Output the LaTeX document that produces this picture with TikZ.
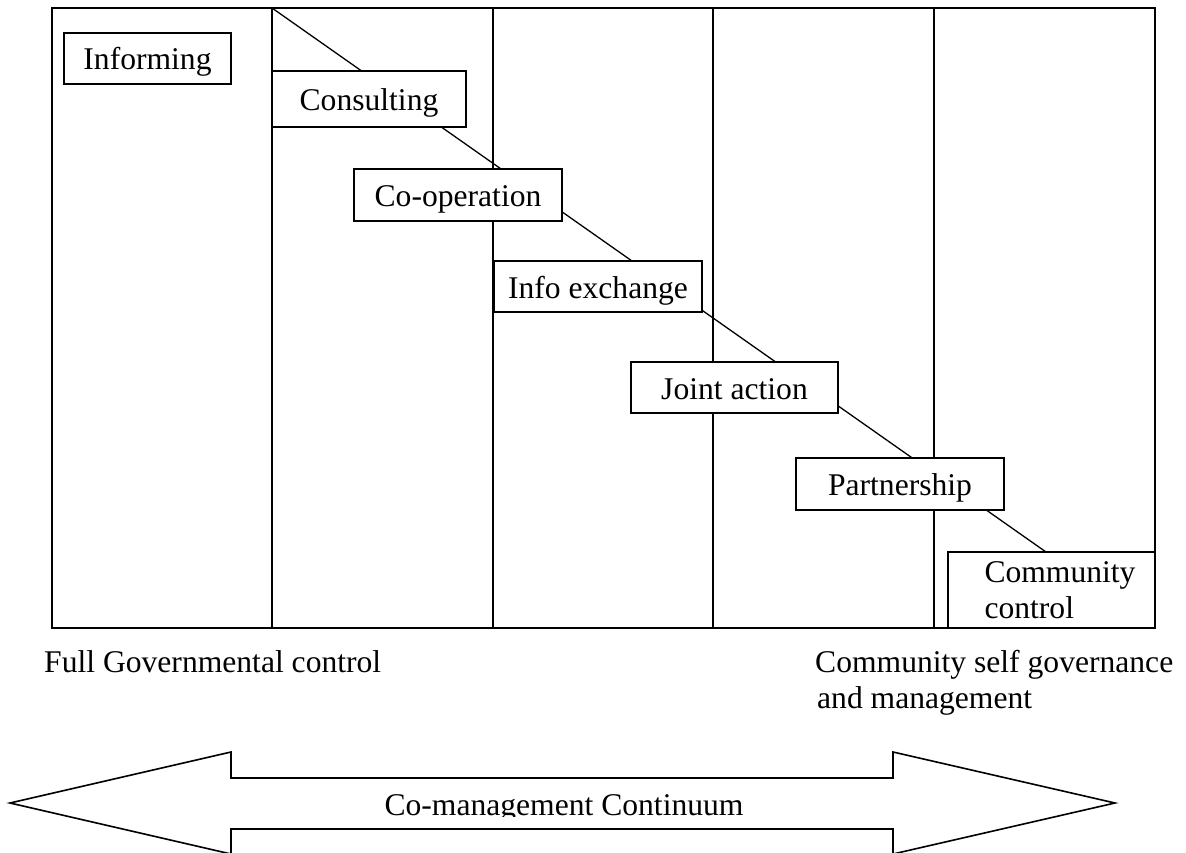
\documentclass[tikz,border=0pt]{standalone}
\usepackage{fontspec}
\setmainfont{Liberation Serif}
\usepackage{tikz}

\begin{document}
\begin{tikzpicture}[
  x=1pt, y=-1pt,
  every node/.style={font=\fontsize{31.6}{36}\selectfont},
  frame/.style={line width=1.6pt},
  box/.style={draw,fill=white,line width=1.6pt,inner sep=0pt},
  stage/.style={box,text height=26,text depth=3},
  link/.style={line width=1.3pt}
]
\useasboundingbox (0,0) rectangle (1186,853);

% five columns
\draw[frame] (52,8) rectangle (1155,628);
\foreach \x in {272,493,713,934}
  \draw[frame] (\x,8) -- (\x,628);

% the staircase line, behind the boxes
\coordinate (top) at (272,8);
\coordinate (bottom) at (1046,552);
\draw[link] (top) -- (bottom);

\node[stage,minimum width=167,minimum height=51] (inform) at (147.5,58.5) {Informing};
\node[stage,minimum width=194,minimum height=56] (consult) at (369,99) {Consulting};
\node[stage,minimum width=208,minimum height=52] (coop) at (458,195) {Co-operation};
\node[stage,minimum width=208,minimum height=51] (info) at (598,286.5) {Info exchange};
\node[stage,minimum width=207,minimum height=51] (joint) at (734.5,387.5) {Joint action};
\node[stage,minimum width=208,minimum height=52] (partner) at (900,484) {Partnership};
\node[box,minimum width=207,minimum height=76,text width=134,align=left] (cc) at (1051.5,590) {Community\\control};

% ends of the scale
\node[inner sep=0pt,anchor=base west] (gov) at (44,672) {Full Governmental control};
\node[inner sep=0pt,anchor=north west,align=left] (self) at (815,650) {Community self governance\\\hspace*{2pt}and management};

% double arrow
\draw[frame] (10,803) -- (231,752) -- (231,778) -- (893,778) -- (893,752) -- (1115,803)
  -- (893,854) -- (893,829) -- (231,829) -- (231,854) -- cycle;
\begin{scope}
  \clip (231,778) rectangle (893,816);
  \node[inner sep=0pt,anchor=base] (continuum) at (564,815) {Co-management Continuum};
\end{scope}

\end{tikzpicture}
\end{document}
